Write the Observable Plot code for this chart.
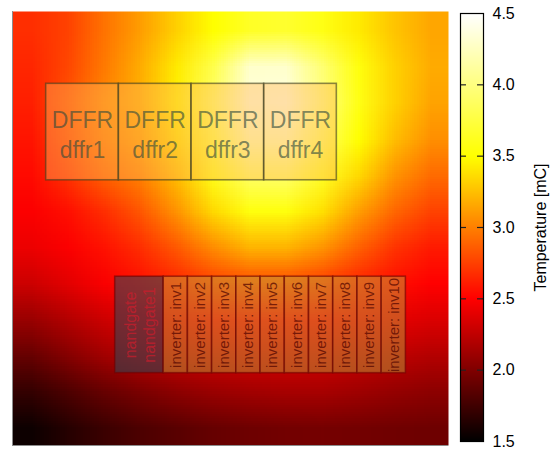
<!DOCTYPE html>
<html>
<head>
<meta charset="utf-8">
<script src="https://cdn.jsdelivr.net/npm/d3@7"></script>
<script src="https://cdn.jsdelivr.net/npm/@observablehq/plot@0.6"></script>
<style>
  body { margin: 0; background: white; }
  #wrap { position: relative; width: 557px; height: 450px; }
  #wrap > svg { position: absolute; top: 0; }
</style>
</head>
<body>
<div id="wrap"></div>
<script>
// Temperature field, 12 x 12 samples, rows listed top to bottom
const gridCols = 12;
const gridRows = 12;
const tempGrid = [
  2.68, 2.76, 2.95, 3.12, 3.32, 3.50, 3.65, 3.68, 3.58, 3.42, 3.27, 3.15,
  2.65, 2.78, 2.98, 3.18, 3.42, 3.80, 4.30, 4.30, 3.95, 3.55, 3.32, 3.17,
  2.62, 2.82, 3.03, 3.18, 3.45, 3.90, 4.35, 4.38, 4.00, 3.58, 3.32, 3.14,
  2.58, 2.78, 2.98, 3.12, 3.38, 3.78, 4.20, 4.22, 3.88, 3.50, 3.24, 3.06,
  2.54, 2.70, 2.88, 3.01, 3.25, 3.60, 3.90, 3.92, 3.65, 3.35, 3.08, 2.92,
  2.49, 2.56, 2.68, 2.84, 3.08, 3.35, 3.55, 3.55, 3.38, 3.12, 2.90, 2.76,
  2.43, 2.49, 2.57, 2.68, 2.85, 3.05, 3.20, 3.20, 3.08, 2.88, 2.70, 2.60,
  2.30, 2.39, 2.48, 2.56, 2.65, 2.75, 2.80, 2.80, 2.74, 2.64, 2.56, 2.50,
  2.10, 2.20, 2.30, 2.38, 2.44, 2.50, 2.52, 2.52, 2.50, 2.45, 2.40, 2.36,
  1.90, 2.02, 2.13, 2.22, 2.28, 2.31, 2.33, 2.33, 2.32, 2.28, 2.24, 2.20,
  1.70, 1.80, 1.90, 1.98, 2.05, 2.10, 2.13, 2.15, 2.15, 2.12, 2.08, 2.05,
  1.55, 1.65, 1.73, 1.80, 1.85, 1.90, 1.93, 1.95, 1.96, 1.95, 1.94, 1.93
];

// Layout extent (chip units)
const chipExtent = [0, 18];

// Cells
const cellTypes = ["DFFR", "DFFR", "DFFR", "DFFR", "nandgate",
  "inverter", "inverter", "inverter", "inverter", "inverter",
  "inverter", "inverter", "inverter", "inverter", "inverter"];
const cellNames = ["dffr1", "dffr2", "dffr3", "dffr4", "nandgate1",
  "inv1", "inv2", "inv3", "inv4", "inv5", "inv6", "inv7", "inv8", "inv9", "inv10"];
const cellX = [1.39, 4.39, 7.39, 10.39, 4.24, 6.24, 7.24, 8.24, 9.24, 10.24, 11.24, 12.24, 13.24, 14.24, 15.24];
const cellY = [11, 11, 11, 11, 3, 3, 3, 3, 3, 3, 3, 3, 3, 3, 3];
const cellW = [3, 3, 3, 3, 2, 1, 1, 1, 1, 1, 1, 1, 1, 1, 1];
const cellH = [4, 4, 4, 4, 4, 4, 4, 4, 4, 4, 4, 4, 4, 4, 4];

// Colour bar
const colorDomain = [1.5, 4.5];
const colorTicks = [1.5, 2.0, 2.5, 3.0, 3.5, 4.0, 4.5];
const colorLabel = "Temperature [mC]";

const cells = cellNames.map((name, i) => ({
  type: cellTypes[i], name,
  x1: cellX[i], x2: cellX[i] + cellW[i],
  y1: cellY[i], y2: cellY[i] + cellH[i],
  label: cellTypes[i] === "inverter" ? `${cellTypes[i]}: ${name}` : `${cellTypes[i]}\n${name}`
}));

const typeStyle = {
  DFFR:     {fill: "#ffb45a", fillOpacity: 0.42, stroke: "#3d3d1f", strokeOpacity: 0.6, text: "#2f4a3c", textOpacity: 0.62},
  nandgate: {fill: "#2a4a5a", fillOpacity: 0.55, stroke: "#700000", strokeOpacity: 0.6, text: "#d01c2c", textOpacity: 0.7},
  inverter: {fill: "#b8b040", fillOpacity: 0.45, stroke: "#700000", strokeOpacity: 0.6, text: "#500400", textOpacity: 0.72}
};

const colorOpts = {
  type: "linear",
  domain: [1.5, 2.5, 3.5, 4.5],
  range: ["#000000", "#ff0000", "#ffff00", "#ffffff"],
  interpolate: "rgb",
  clamp: true
};

const font = "'Liberation Sans', Arial, Helvetica, sans-serif";

const main = Plot.plot({
  width: 557, height: 450,
  marginLeft: 12, marginRight: 109, marginTop: 11, marginBottom: 5,
  x: {domain: chipExtent, axis: null},
  y: {domain: chipExtent, axis: null},
  color: colorOpts,
  style: {fontFamily: font, background: "white"},
  marks: [
    Plot.raster(tempGrid, {
      width: gridCols, height: gridRows,
      x1: chipExtent[0], x2: chipExtent[1], y1: chipExtent[1], y2: chipExtent[0],
      fill: d => d, imageRendering: "auto"
    }),
    Plot.ruleX([chipExtent[0]], {stroke: "#8c8c8c", strokeWidth: 1}),
    Plot.ruleY([chipExtent[0]], {stroke: "#8c8c8c", strokeWidth: 1}),
    Plot.rect(cells, {
      x1: "x1", x2: "x2", y1: "y1", y2: "y2",
      fill: d => typeStyle[d.type].fill,
      fillOpacity: d => typeStyle[d.type].fillOpacity,
      stroke: d => typeStyle[d.type].stroke,
      strokeOpacity: d => typeStyle[d.type].strokeOpacity,
      strokeWidth: 1.6
    }),
    Plot.text(cells.filter(d => d.type === "DFFR"), {
      x: d => (d.x1 + d.x2) / 2, y: d => (d.y1 + d.y2) / 2,
      text: "label", fontSize: 23, lineHeight: 1.3, lineAnchor: "middle", dy: 1,
      fill: d => typeStyle[d.type].text, fillOpacity: d => typeStyle[d.type].textOpacity
    }),
    Plot.text(cells.filter(d => d.type === "nandgate"), {
      x: d => (d.x1 + d.x2) / 2, y: d => (d.y1 + d.y2) / 2,
      text: "label", fontSize: 16, lineHeight: 1.15, lineAnchor: "middle", rotate: -90,
      fill: d => typeStyle[d.type].text, fillOpacity: d => typeStyle[d.type].textOpacity
    }),
    Plot.text(cells.filter(d => d.type === "inverter"), {
      x: d => (d.x1 + d.x2) / 2, y: d => (d.y1 + d.y2) / 2,
      text: "label", fontSize: 15, lineAnchor: "middle", rotate: -90,
      fill: d => typeStyle[d.type].text, fillOpacity: d => typeStyle[d.type].textOpacity
    })
  ]
});

const bar = Plot.plot({
  width: 97, height: 450,
  marginLeft: 0, marginRight: 74, marginTop: 13, marginBottom: 9,
  x: {domain: [0, 1], axis: null},
  y: {domain: colorDomain, axis: null},
  color: colorOpts,
  style: {fontFamily: font, background: "transparent", overflow: "visible"},
  marks: [
    Plot.raster({fill: (x, y) => y, x1: 0, x2: 1, y1: colorDomain[0], y2: colorDomain[1], pixelSize: 1}),
    Plot.ruleY(colorTicks.slice(1, -1), {x1: 0, x2: 0.26, stroke: "#222", strokeWidth: 1.2}),
    Plot.ruleY(colorTicks.slice(1, -1), {x1: 0.74, x2: 1, stroke: "#222", strokeWidth: 1.2}),
    Plot.frame({stroke: "black", strokeWidth: 1.2}),
    Plot.axisY(colorTicks, {anchor: "right", tickSize: 0, tickPadding: 9, fontSize: 16,
      tickFormat: d3.format(".1f"), label: null, fill: "black"}),
    Plot.text([colorLabel], {frameAnchor: "right", textAnchor: "middle", rotate: -90, dx: 57, fontSize: 16, fill: "black"})
  ]
});
bar.style.left = "460px";

const wrap = document.getElementById("wrap");
wrap.appendChild(main);
wrap.appendChild(bar);
</script>
</body>
</html>
